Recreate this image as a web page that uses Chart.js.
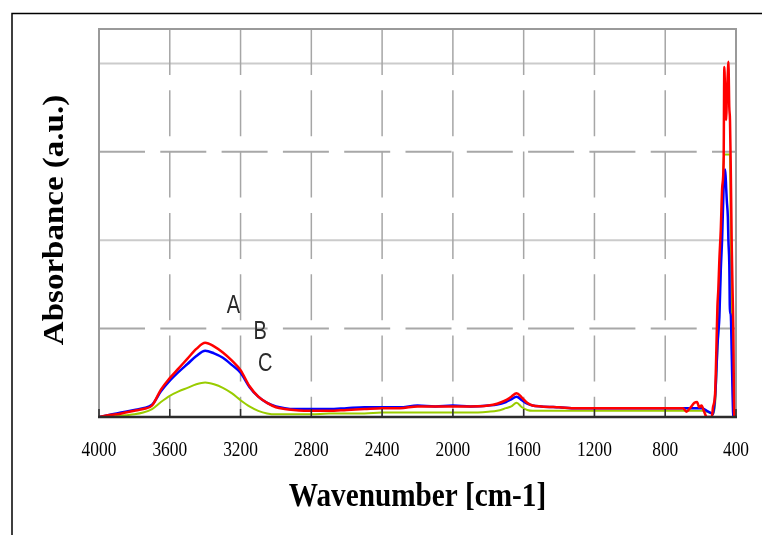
<!DOCTYPE html>
<html>
<head>
<meta charset="utf-8">
<script src="https://cdn.jsdelivr.net/npm/chart.js@4/dist/chart.umd.min.js"></script>
<style>
  html, body { margin: 0; padding: 0; background: #fff; }
  #wrap { width: 762px; height: 535px; }
</style>
</head>
<body>
<div id="wrap"><canvas id="ftir" width="762" height="535"></canvas></div>
<script>
// ==================== data ====================
const wavenumbers = [
  4000, 3950, 3900, 3850, 3800, 3750, 3700, 3650, 3600, 3550, 3500, 3450, 3400, 3350, 3300, 3250, 3200, 3150, 3100, 3050, 3000, 2950, 2900,
  2800, 2700, 2600, 2500, 2400, 2300, 2200, 2100, 2000, 1900, 1800,
  1750, 1700, 1670, 1640, 1610, 1580, 1550, 1500,
  1400, 1300, 1200, 1100, 1000, 900, 800,
  700, 680, 660, 635, 620, 608, 595, 580, 565, 537, 530,
  518, 513, 505, 500, 494, 486, 478, 470, 466, 461, 455,
  452, 446, 443, 438, 434, 430, 424, 419, 415, 410, 400
];

const seriesA = [ // red
  0.00, 0.02, 0.03, 0.05, 0.07, 0.09, 0.13, 0.31, 0.44, 0.55, 0.66, 0.77, 0.84, 0.80, 0.73, 0.64, 0.53, 0.35, 0.23, 0.16, 0.11, 0.09, 0.08,
  0.07, 0.07, 0.08, 0.09, 0.10, 0.10, 0.12, 0.12, 0.12, 0.12, 0.13,
  0.15, 0.19, 0.23, 0.27, 0.22, 0.16, 0.13, 0.12,
  0.11, 0.10, 0.10, 0.10, 0.10, 0.10, 0.10,
  0.10, 0.06, 0.10, 0.16, 0.17, 0.11, 0.13, 0.06, 0.00, 0.00, 0.11,
  0.27, 0.60, 1.25, 1.44, 1.78, 2.12, 2.60, 2.88, 3.96, 3.60, 3.36,
  3.62, 3.90, 4.02, 3.51, 3.36, 2.88, 1.93, 1.40, 0.99, 0.00, 0.00
];

const seriesB = [ // blue
  0.00, 0.02, 0.04, 0.06, 0.08, 0.10, 0.14, 0.29, 0.41, 0.51, 0.60, 0.69, 0.75, 0.72, 0.67, 0.59, 0.50, 0.34, 0.23, 0.16, 0.12, 0.10, 0.09,
  0.09, 0.09, 0.10, 0.11, 0.11, 0.11, 0.13, 0.12, 0.13, 0.12, 0.13,
  0.14, 0.17, 0.20, 0.23, 0.19, 0.15, 0.13, 0.12,
  0.11, 0.10, 0.10, 0.10, 0.10, 0.10, 0.10,
  0.10, 0.10, 0.10, 0.10, 0.10, 0.10, 0.10, 0.09, 0.07, 0.04, 0.03,
  0.23, 0.42, 0.80, 0.95, 1.13, 1.66, 2.04, 2.60, 2.70, 2.80, 2.57,
  2.45, 2.26, 2.00, 1.74, 1.17, 1.17, 0.70, 0.23, 0.00, 0.00, 0.00
];

const seriesC = [ // green
  0.00, 0.00, 0.01, 0.02, 0.03, 0.05, 0.09, 0.17, 0.24, 0.29, 0.33, 0.37, 0.39, 0.37, 0.33, 0.27, 0.19, 0.12, 0.07, 0.04, 0.03, 0.03, 0.03,
  0.03, 0.04, 0.04, 0.04, 0.05, 0.05, 0.05, 0.05, 0.05, 0.05, 0.06,
  0.07, 0.10, 0.12, 0.16, 0.11, 0.08, 0.07, 0.07,
  0.07, 0.07, 0.07, 0.07, 0.07, 0.07, 0.07,
  0.07, 0.07, 0.07, 0.07, 0.07, 0.07, 0.07, 0.07, 0.06, 0.04, 0.03,
  0.15, 0.35, 0.75, 0.95, 1.20, 1.80, 2.30, 2.90, 2.97, 2.97, 2.97,
  2.97, 2.97, 2.97, 2.97, 2.97, 2.00, 1.20, 0.50, 0.00, 0.00, 0.00
];

const xTicks = [4000, 3600, 3200, 2800, 2400, 2000, 1600, 1200, 800, 400];
const yGrid = [1, 2, 3, 4];          // odd = dashed, even = solid
const curveLabels = ['A', 'B', 'C'];
const labelPos = [[3241, 1.25], [3089, 0.96], [3061, 0.60]];

const xTitle = 'Wavenumber [cm-1]';
const yTitle = 'Absorbance (a.u.)';

function toPoints(values) {
  return wavenumbers.map((w, i) => ({ x: w, y: values[i] }));
}

// 壓扁字型（原圖文字偏窄）
function squeezedText(ctx, text, x, y, sx, rot) {
  ctx.save();
  ctx.translate(x, y);
  ctx.scale(sx, 1);
  if (rot) ctx.rotate(rot);
  ctx.fillText(text, 0, 0);
  ctx.restore();
}

// ==================== frame / grid plugin ====================
const framePlugin = {
  id: 'frame',
  beforeDatasetsDraw(chart) {
    const { ctx, chartArea: a, scales: { x, y } } = chart;
    ctx.save();

    // outer frame (left + top only visible)
    ctx.strokeStyle = '#000';
    ctx.lineWidth = 1.5;
    ctx.beginPath();
    ctx.moveTo(12, 540);
    ctx.lineTo(12, 13.5);
    ctx.lineTo(770, 13.5);
    ctx.stroke();

    // horizontal grid
    yGrid.forEach(v => {
      const py = y.getPixelForValue(v);
      ctx.beginPath();
      if (v % 2 === 1) {
        ctx.setLineDash([46, 15.3]);
        ctx.strokeStyle = '#a8a8a8';
      } else {
        ctx.setLineDash([]);
        ctx.strokeStyle = '#cbcbcb';
      }
      ctx.lineWidth = 2;
      ctx.moveTo(a.left, py);
      ctx.lineTo(a.right, py);
      ctx.stroke();
    });

    // vertical grid
    ctx.setLineDash([46, 15.3]);
    ctx.strokeStyle = '#a6a6a6';
    ctx.lineWidth = 1.5;
    xTicks.slice(1, -1).forEach(w => {
      const px = x.getPixelForValue(w);
      ctx.beginPath();
      ctx.moveTo(px, a.top);
      ctx.lineTo(px, a.bottom);
      ctx.stroke();
    });
    ctx.setLineDash([]);

    // plot border (top, left, right)
    ctx.strokeStyle = '#9a9a9a';
    ctx.lineWidth = 2;
    ctx.beginPath();
    ctx.moveTo(a.left, a.bottom);
    ctx.lineTo(a.left, a.top);
    ctx.lineTo(a.right, a.top);
    ctx.lineTo(a.right, a.bottom);
    ctx.stroke();
    ctx.restore();
  },
  afterDatasetsDraw(chart) {
    const { ctx, chartArea: a, scales: { x, y } } = chart;
    ctx.save();

    // bottom axis + inner ticks
    ctx.strokeStyle = '#2b2b2b';
    ctx.lineWidth = 2.5;
    ctx.beginPath();
    ctx.moveTo(a.left - 1, a.bottom);
    ctx.lineTo(a.right + 1, a.bottom);
    ctx.stroke();
    ctx.lineWidth = 1.5;
    xTicks.forEach(w => {
      const px = x.getPixelForValue(w);
      ctx.beginPath();
      ctx.moveTo(px, a.bottom);
      ctx.lineTo(px, a.bottom - 8);
      ctx.stroke();
    });

    // tick labels
    ctx.fillStyle = '#000';
    ctx.textAlign = 'center';
    ctx.textBaseline = 'middle';
    ctx.font = '22px "Liberation Serif", "Times New Roman", serif';
    xTicks.forEach(w => {
      squeezedText(ctx, String(w), x.getPixelForValue(w), 450, 0.79);
    });

    // axis titles
    ctx.fillStyle = '#000';
    ctx.font = 'bold 34px "Liberation Serif", "Times New Roman", serif';
    squeezedText(ctx, xTitle, (a.left + a.right) / 2, 497, 0.86);
    ctx.font = 'bold 33px "Liberation Serif", "Times New Roman", serif';
    squeezedText(ctx, yTitle, 55, 220, 0.9, -Math.PI / 2);

    // curve labels
    ctx.fillStyle = '#2a2a2a';
    ctx.font = '25px "Liberation Sans", Arial, sans-serif';
    curveLabels.forEach((t, i) => {
      const [w, v] = labelPos[i];
      squeezedText(ctx, t, x.getPixelForValue(w), y.getPixelForValue(v), 0.8);
    });
    ctx.restore();
  }
};

// ==================== chart ====================
const ctx = document.getElementById('ftir').getContext('2d');
new Chart(ctx, {
  type: 'line',
  data: {
    datasets: [
      { label: 'A', data: toPoints(seriesA), borderColor: '#ff0000', borderWidth: 2.5 },
      { label: 'B', data: toPoints(seriesB), borderColor: '#0000ff', borderWidth: 2.5 },
      { label: 'C', data: toPoints(seriesC), borderColor: '#99cc00', borderWidth: 2 }
    ]
  },
  options: {
    responsive: false,
    animation: false,
    events: [],
    elements: {
      point: { radius: 0 },
      line: { cubicInterpolationMode: 'monotone', fill: false }
    },
    layout: { padding: { left: 99, top: 29, right: 26, bottom: 118 } },
    scales: {
      x: { type: 'linear', reverse: true, min: 400, max: 4000, display: false },
      y: { type: 'linear', min: 0, max: 4.39, display: false }
    },
    plugins: {
      legend: { display: false },
      tooltip: { enabled: false }
    }
  },
  plugins: [framePlugin]
});
</script>
</body>
</html>
